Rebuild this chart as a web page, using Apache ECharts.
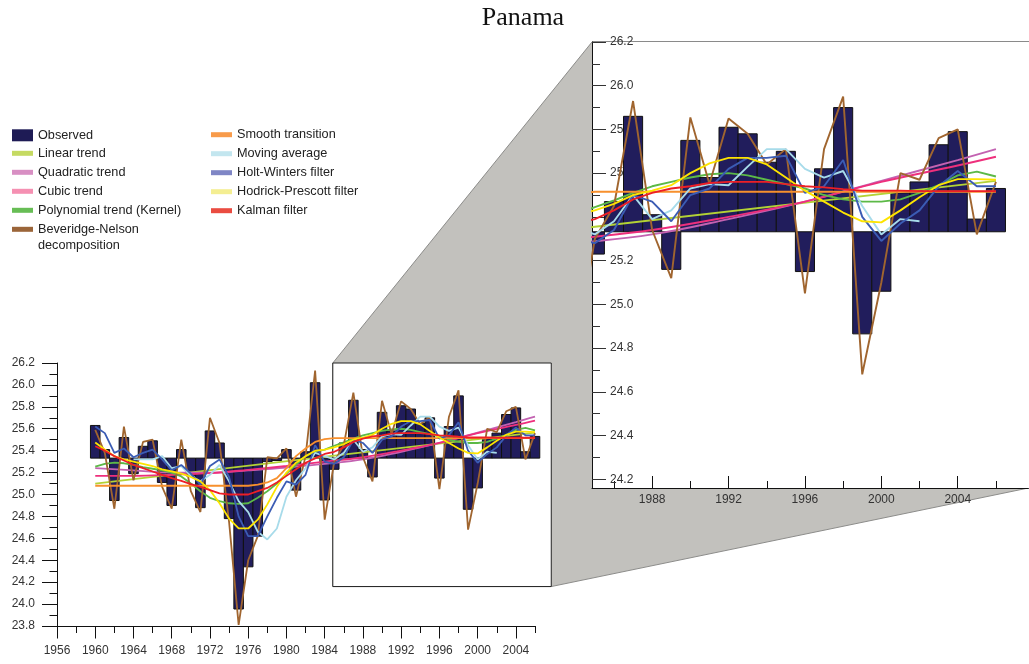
<!DOCTYPE html>
<html><head><meta charset="utf-8">
<script src="https://cdn.jsdelivr.net/npm/echarts@6/dist/echarts.min.js"></script>
<style>html,body{margin:0;padding:0;background:#fff}#c{width:1029px;height:664px}</style>
</head><body><div id="c"></div>
<script>
// ---------- data ----------
const years = [1960,1961,1962,1963,1964,1965,1966,1967,1968,1969,1970,1971,1972,1973,1974,1975,1976,1977,1978,1979,
  1980,1981,1982,1983,1984,1985,1986,1987,1988,1989,1990,1991,1992,1993,1994,1995,1996,1997,1998,1999,
  2000,2001,2002,2003,2004,2005,2006];
const observed = [25.63,25.41,24.945,25.52,25.19,25.44,25.49,25.11,24.90,25.41,25.17,24.88,25.58,25.47,24.78,23.955,24.34,24.62,25.30,25.31,
  25.41,25.04,25.39,26.02,24.95,25.23,25.47,25.86,25.41,25.16,25.75,25.58,25.81,25.78,25.65,25.70,25.15,25.62,25.90,24.865,
  25.06,25.51,25.56,25.73,25.79,25.39,25.53];
const baseline = 25.332;
const beveridgeNelson = [25.59,25.38,24.87,25.62,25.13,25.48,25.50,25.07,24.87,25.50,25.03,24.84,25.70,25.47,24.75,23.81,24.40,24.62,25.34,25.33,
  25.42,24.98,25.35,26.13,24.77,25.30,25.45,25.93,25.34,25.12,25.855,25.55,25.85,25.78,25.64,25.71,25.05,25.71,25.95,24.68,
  25.10,25.60,25.57,25.76,25.80,25.32,25.56];
const holtWinters = [25.62,25.56,25.38,25.42,25.34,25.38,25.41,25.32,25.22,25.27,25.19,25.09,25.26,25.32,25.16,24.80,24.62,24.62,24.80,24.97,
  25.12,25.09,25.18,25.45,25.30,25.28,25.34,25.50,25.47,25.38,25.50,25.53,25.62,25.67,25.67,25.68,25.51,25.54,25.66,25.40,
  25.29,25.37,25.43,25.54,25.61,25.54,25.54];
const maYears = [1964,1965,1966,1967,1968,1969,1970,1971,1972,1973,1974,1975,1976,1977,1978,1979,1980,1981,1982,1983,
  1984,1985,1986,1987,1988,1989,1990,1991,1992,1993,1994,1995,1996,1997,1998,1999,2000,2001,2002];
const movingAverage = [25.32,25.32,25.32,25.35,25.24,25.26,25.17,25.12,25.18,25.27,25.12,24.94,24.84,24.66,24.59,24.69,24.98,25.13,25.24,25.38,
  25.35,25.32,25.38,25.50,25.39,25.43,25.53,25.55,25.545,25.63,25.71,25.71,25.62,25.58,25.61,25.45,25.32,25.39,25.38];
const hodrickPrescott = [25.475,25.41,25.35,25.32,25.30,25.28,25.26,25.23,25.21,25.19,25.16,25.12,25.04,24.92,24.78,24.69,24.69,24.77,24.91,25.07,
  25.20,25.29,25.35,25.40,25.41,25.43,25.46,25.50,25.52,25.545,25.60,25.645,25.67,25.67,25.64,25.58,25.52,25.47,25.42,25.38,
  25.375,25.43,25.49,25.545,25.573,25.573,25.57];
const kalman = [25.44,25.40,25.35,25.31,25.27,25.24,25.21,25.18,25.15,25.125,25.095,25.07,25.04,25.01,25.00,25.00,25.00,25.03,25.06,25.11,
  25.17,25.23,25.29,25.33,25.37,25.39,25.43,25.48,25.51,25.53,25.54,25.555,25.56,25.56,25.56,25.55,25.54,25.535,25.527,25.52,
  25.52,25.52,25.518,25.518,25.518,25.518,25.518];
const smoothTransition = [25.08,25.08,25.08,25.08,25.08,25.08,25.08,25.08,25.08,25.08,25.08,25.08,25.08,25.08,25.08,25.08,25.08,25.09,25.11,25.15,
  25.24,25.35,25.42,25.48,25.505,25.515,25.515,25.515,25.515,25.515,25.515,25.515,25.515,25.515,25.515,25.515,25.515,25.515,25.515,25.515,
  25.515,25.515,25.515,25.515,25.515,25.515,25.515];
const kernelTrend = [25.255,25.28,25.29,25.285,25.27,25.25,25.235,25.22,25.20,25.165,25.10,25.03,24.97,24.94,24.92,24.915,24.92,24.97,25.03,25.10,
  25.19,25.27,25.35,25.39,25.41,25.445,25.475,25.51,25.54,25.56,25.58,25.595,25.60,25.59,25.57,25.55,25.53,25.50,25.48,25.47,
  25.47,25.48,25.51,25.545,25.59,25.607,25.585];
const linearYears = [1960,1985,2006];
const linearTrend = [25.10,25.355,25.565];
const trendYears = [1960,1964,1968,1972,1976,1980,1984,1988,1992,1996,2000,2004,2006];
const quadraticTrend = [25.24,25.22,25.20,25.20,25.22,25.245,25.28,25.32,25.39,25.47,25.565,25.66,25.71];
const cubicTrend = [25.17,25.17,25.18,25.195,25.225,25.26,25.30,25.34,25.40,25.47,25.56,25.635,25.675];

// tick labels
const mainXMajor = [1956,1960,1964,1968,1972,1976,1980,1984,1988,1992,1996,2000,2004];
const mainXMinor = [1958,1962,1966,1970,1974,1978,1982,1986,1990,1994,1998,2002,2006];
const mainYMajor = [23.8,24.0,24.2,24.4,24.6,24.8,25.0,25.2,25.4,25.6,25.8,26.0,26.2];
const mainYMinor = [23.9,24.1,24.3,24.5,24.7,24.9,25.1,25.3,25.5,25.7,25.9,26.1];
const zoomXMajor = [1988,1992,1996,2000,2004];
const zoomXMinor = [1986,1990,1994,1998,2002,2006];
const zoomYMajor = [24.2,24.4,24.6,24.8,25.0,25.2,25.4,25.6,25.8,26.0,26.2];
const zoomYMinor = [24.3,24.5,24.7,24.9,25.1,25.3,25.5,25.7,25.9,26.1];
const zoomX = [1984.85, 2007.7];
const zoomY = [24.16, 26.2];

// ---------- chart ----------
const FONT = 'Liberation Sans, Arial, Helvetica, sans-serif';
const chart = echarts.init(document.getElementById('c'), null, {renderer: 'canvas'});

const lineDefs = [
  {name:'Linear trend', color:'#b3d235', legend:'#c5da62', x: linearYears, y: linearTrend},
  {name:'Quadratic trend', color:'#c362b1', legend:'#d88fc3', x: trendYears, y: quadraticTrend, smooth: true},
  {name:'Cubic trend', color:'#ee2f7c', legend:'#f590b2', x: trendYears, y: cubicTrend, smooth: true},
  {name:'Polynomial trend (Kernel)', color:'#5cb947', legend:'#67bd55', x: years, y: kernelTrend},
  {name:'Beveridge-Nelson decomposition', color:'#a0652f', legend:'#9b6539', x: years, y: beveridgeNelson},
  {name:'Smooth transition', color:'#f7902d', legend:'#f89b4a', x: years, y: smoothTransition},
  {name:'Moving average', color:'#a7dbea', legend:'#c3e6ef', x: maYears, y: movingAverage},
  {name:'Holt-Winters filter', color:'#3b5cb4', legend:'#7f86c5', x: years, y: holtWinters},
  {name:'Hodrick-Prescott filter', color:'#fde400', legend:'#f4ee92', x: years, y: hodrickPrescott},
  {name:'Kalman filter', color:'#ed1f26', legend:'#ea4c41', x: years, y: kalman}
];
const barColor = '#211d5c';

function renderBar(params, api) {
  const x = api.value(0), v = api.value(1);
  const a = api.coord([x - 0.5, v]);
  const b = api.coord([x + 0.5, baseline]);
  return {
    type: 'rect',
    shape: {x: a[0], y: Math.min(a[1], b[1]), width: b[0] - a[0], height: Math.abs(b[1] - a[1])},
    style: {fill: barColor, stroke: '#111', lineWidth: 1}
  };
}

const obsData = years.map((y, i) => [y, observed[i]]);
const series = [];
[0, 2].forEach((ax, gi) => {
  series.push({
    type: 'custom', name: 'Observed', xAxisIndex: ax, yAxisIndex: ax,
    data: obsData, renderItem: renderBar, clip: gi === 1,
    itemStyle: {color: barColor}, encode: {x: 0, y: 1}
  });
  lineDefs.forEach(d => {
    series.push({
      type: 'line', name: d.name, xAxisIndex: ax, yAxisIndex: ax,
      data: d.x.map((yy, i) => [yy, d.y[i]]),
      showSymbol: false, symbol: 'none', smooth: d.smooth ? 0.4 : false,
      clip: gi === 1,
      lineStyle: {color: d.color, width: gi === 1 ? 1.9 : 1.8},
      itemStyle: {color: d.color}
    });
  });
});

const tickLabel = {color: '#333', fontSize: 12, fontFamily: FONT};
const axisLine = {show: true, lineStyle: {color: '#111', width: 1}};
const fmt = v => Number(v).toFixed(1);

const xAxis = [
  {type:'value', gridIndex:0, min:1956, max:2006, position:'bottom', axisLine: axisLine,
   splitLine:{show:false}, axisTick:{show:true, length:12.5, customValues: mainXMajor, lineStyle:{color:'#111'}},
   axisLabel: Object.assign({margin: 19, customValues: mainXMajor, formatter: v => String(v)}, tickLabel)},
  {type:'value', gridIndex:0, min:1956, max:2006, position:'bottom', axisLine:{show:false},
   splitLine:{show:false}, axisTick:{show:true, length:7, customValues: mainXMinor, lineStyle:{color:'#111'}},
   axisLabel:{show:false}},
  {type:'value', gridIndex:1, min:zoomX[0], max:zoomX[1], position:'bottom', axisLine: axisLine,
   splitLine:{show:false}, axisTick:{show:true, inside:true, length:12, customValues: zoomXMajor, lineStyle:{color:'#111'}},
   axisLabel: Object.assign({margin: 6, customValues: zoomXMajor, formatter: v => String(v)}, tickLabel)},
  {type:'value', gridIndex:1, min:zoomX[0], max:zoomX[1], position:'bottom', axisLine:{show:false},
   splitLine:{show:false}, axisTick:{show:true, inside:true, length:7, customValues: zoomXMinor, lineStyle:{color:'#111'}},
   axisLabel:{show:false}}
];
const yAxis = [
  {type:'value', gridIndex:0, min:23.8, max:26.2, position:'left', axisLine: axisLine,
   splitLine:{show:false}, axisTick:{show:true, length:15, customValues: mainYMajor, lineStyle:{color:'#111'}},
   axisLabel: Object.assign({margin: 22, customValues: mainYMajor, formatter: fmt}, tickLabel)},
  {type:'value', gridIndex:0, min:23.8, max:26.2, position:'left', axisLine:{show:false},
   splitLine:{show:false}, axisTick:{show:true, length:7.5, customValues: mainYMinor, lineStyle:{color:'#111'}},
   axisLabel:{show:false}},
  {type:'value', gridIndex:1, min:zoomY[0], max:zoomY[1], position:'left', axisLine: axisLine,
   splitLine:{show:false}, axisTick:{show:true, inside:true, length:14, customValues: zoomYMajor, lineStyle:{color:'#333'}},
   axisLabel: Object.assign({inside:true, margin: 18, customValues: zoomYMajor, formatter: fmt}, tickLabel)},
  {type:'value', gridIndex:1, min:zoomY[0], max:zoomY[1], position:'left', axisLine:{show:false},
   splitLine:{show:false}, axisTick:{show:true, inside:true, length:8, customValues: zoomYMinor, lineStyle:{color:'#333'}},
   axisLabel:{show:false}}
];

const legendText = {fontSize: 12.7, fontFamily: FONT, color: '#222', lineHeight: 14};
const legendItem = (d) => ({name: d.name, icon: 'rect', itemStyle: {color: d.legend, borderWidth: 0}});
// the swatch sits on the first line of the two-line label: a blank leading line centres it there
const bnFormatter = n => '\nBeveridge-Nelson\ndecomposition';

chart.setOption({
  animation: false,
  backgroundColor: '#fff',
  title: {text: 'Panama', left: 518, top: 0, textAlign: 'center',
    textStyle: {fontFamily: 'Liberation Serif, Times New Roman, serif', fontSize: 26, fontWeight: 'normal', color: '#111'}},
  legend: [
    {orient:'vertical', left:12, top:128.3, padding:0, itemWidth:21, itemHeight:12, itemGap:5, selectedMode:false,
     textStyle: legendText, data: [{name:'Observed', icon:'rect', itemStyle:{color:'#1e1b55', borderWidth:0}}]},
    {orient:'vertical', left:12, top:146.3, padding:0, itemWidth:21, itemHeight:5, itemGap:5, selectedMode:false,
     textStyle: legendText, data: lineDefs.slice(0, 4).map(legendItem)},
    {orient:'vertical', left:12, top:205.3, padding:0, itemWidth:21, itemHeight:5, itemGap:5, selectedMode:false,
     textStyle: Object.assign({}, legendText, {lineHeight: 16}), formatter: bnFormatter,
     data: lineDefs.slice(4, 5).map(legendItem)},
    {orient:'vertical', left:211, top:127.7, padding:0, itemWidth:21, itemHeight:5, itemGap:5, selectedMode:false,
     textStyle: legendText, data: lineDefs.slice(5).map(legendItem)}
  ],
  grid: [
    {left:57, top:363, width:478, height:263, outerBoundsMode:'none', containLabel:false},
    {left:592, top:42, width:436.4, height:446, outerBoundsMode:'none', containLabel:false}
  ],
  xAxis: xAxis,
  yAxis: yAxis,
  series: series
});

// decoration linking the zoom window to the enlarged panel
const p = (g, v) => chart.convertToPixel({gridIndex: g}, v);
const wTL = p(0, [zoomX[0], zoomY[1]]), wTR = p(0, [zoomX[1], zoomY[1]]);
const wBR = p(0, [zoomX[1], zoomY[0]]), wBL = p(0, [zoomX[0], zoomY[0]]);
const iTL = p(1, [zoomX[0], zoomY[1]]), iTR = p(1, [zoomX[1], zoomY[1]]);
const iBR = p(1, [zoomX[1], zoomY[0]]);
const edge = 4; // push the panel's right side past the canvas edge
chart.setOption({
  graphic: [
    {type:'polygon', z:-5, silent:true,
     shape:{points:[wTL, iTL, [iTR[0] + edge, iTR[1]], [iBR[0] + edge, iBR[1]], iBR, wBR, wBL]},
     style:{fill:'#c2c1bd', stroke:'#8c8c8a', lineWidth:1}},
    {type:'rect', z:-4, silent:true, shape:{x:iTL[0], y:iTL[1], width:iBR[0]-iTL[0]+edge, height:iBR[1]-iTL[1]},
     style:{fill:'#fff'}},
    {type:'line', z:-3, silent:true, shape:{x1:iTL[0], y1:iTL[1]-0.5, x2:iTR[0]+edge, y2:iTR[1]-0.5},
     style:{stroke:'#8a8a8a', lineWidth:1.2}},
    {type:'rect', z:-3, silent:true, shape:{x:wTL[0], y:wTL[1], width:wBR[0]-wTL[0], height:wBR[1]-wTL[1]},
     style:{fill:'#fff', stroke:'#222', lineWidth:1}}
  ]
});
</script>
</body></html>
